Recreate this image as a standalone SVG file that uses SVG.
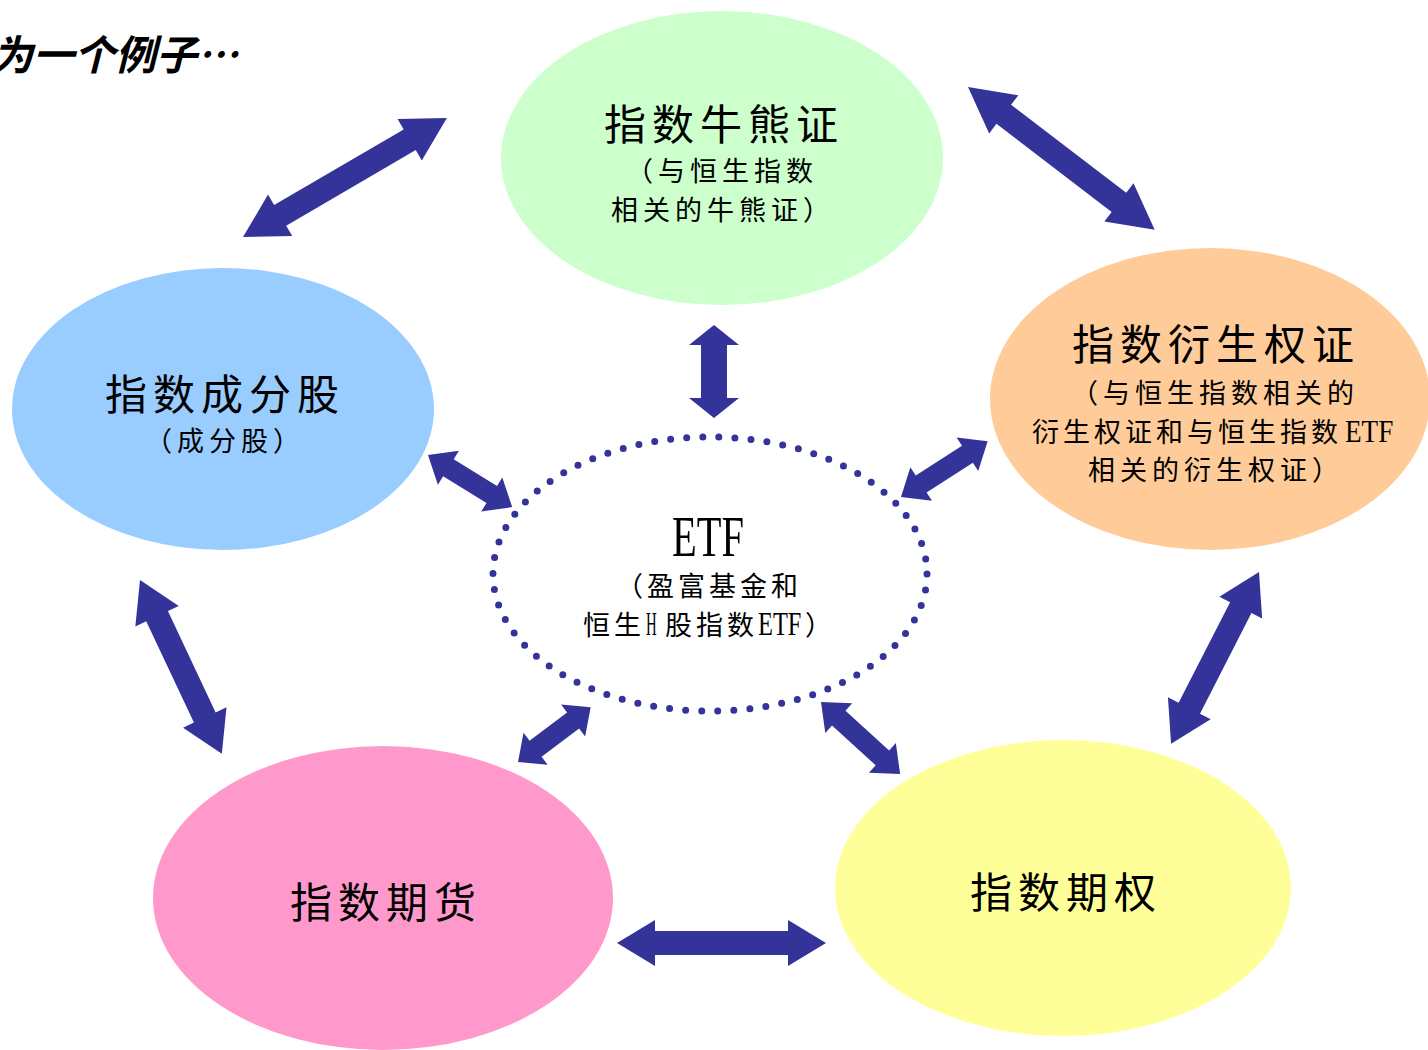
<svg xmlns="http://www.w3.org/2000/svg" width="1428" height="1050" viewBox="0 0 1428 1050">
<style>
.t{font-family:"Noto Sans CJK SC","Noto Sans CJK JP",sans-serif;fill:#000}
.big{font-size:42px;letter-spacing:6px}
.sm{font-size:27px;letter-spacing:5px}
.lat{font-family:"Liberation Serif",serif;fill:#000}
.arr{fill:#333399}
</style>
<rect width="1428" height="1050" fill="#fff"/>
<text x="-8" y="70" class="t" font-size="41" font-weight="bold" font-style="italic">为一个例子…</text>

<g id="node-bullbear">
<ellipse cx="722" cy="158" rx="221" ry="147" fill="#CCFFCC"/>
<text x="604" y="140" class="t big">指数牛熊证</text>
<text x="626" y="181" class="t sm">（与恒生指数</text>
<text x="611" y="220" class="t sm">相关的牛熊证）</text>
</g>
<g id="node-constituents">
<ellipse cx="223" cy="409" rx="211" ry="141" fill="#99CCFF"/>
<text x="105" y="410" class="t big">指数成分股</text>
<text x="145" y="451" class="t sm">（成分股）</text>
</g>
<g id="node-warrants">
<ellipse cx="1210" cy="399" rx="220" ry="151" fill="#FFCC99"/>
<text x="1072" y="360" class="t big">指数衍生权证</text>
<text x="1071" y="403" class="t sm">（与恒生指数相关的</text>
<text x="1032" y="442" class="t" font-size="27" letter-spacing="4">衍生权证和与恒生指数</text>
<text transform="translate(1345,442) scale(0.85,1)" class="lat" font-size="32">ETF</text>
<text x="1088" y="480" class="t sm">相关的衍生权证）</text>
</g>
<g id="node-futures">
<ellipse cx="383" cy="898" rx="230" ry="152" fill="#FF99CC"/>
<text x="290" y="918" class="t big">指数期货</text>
</g>
<g id="node-options">
<ellipse cx="1063" cy="888" rx="228" ry="148" fill="#FFFF99"/>
<text x="970" y="908" class="t big">指数期权</text>
</g>
<g id="node-etf">
<ellipse cx="710" cy="574" rx="217" ry="137" fill="none" stroke="#333399" stroke-width="7" stroke-linecap="round" stroke-dasharray="0 16.1"/>
<text transform="translate(672,556) scale(0.71,1)" class="lat" font-size="57">ETF</text>
<text x="616" y="596" class="t" font-size="27" letter-spacing="4">（盈富基金和</text>
<text x="583" y="635" class="t" font-size="27" letter-spacing="4">恒生</text>
<text transform="translate(646,635) scale(0.45,1)" class="lat" font-size="33">H</text>
<text x="665" y="635" class="t" font-size="27" letter-spacing="4">股指数</text>
<text transform="translate(758,635) scale(0.74,1)" class="lat" font-size="33">ETF</text>
<text x="805" y="635" class="t" font-size="27">）</text>
</g>

<g id="connectors" class="arr">
<polygon transform="translate(243,237) rotate(-30.26)" points="0,0 43,-24 43,-12 193,-12 193,-24 236,0 193,24 193,12 43,12 43,24"/>
<polygon transform="translate(968,87) rotate(37.4)" points="0,0 45,-24 45,-12 190,-12 190,-24 235,0 190,24 190,12 45,12 45,24"/>
<polygon transform="translate(714,325) rotate(90)" points="0,0 20,-25 20,-13 73,-13 73,-25 93,0 73,25 73,13 20,13 20,25"/>
<polygon transform="translate(428,455) rotate(31.76)" points="0,0 24,-20 24,-10 75,-10 75,-20 99,0 75,20 75,10 24,10 24,20"/>
<polygon transform="translate(901,497) rotate(-32.77)" points="0,0 24,-20 24,-10 79,-10 79,-20 103,0 79,20 79,10 24,10 24,20"/>
<polygon transform="translate(140,580) rotate(64.77)" points="0,0 40,-24 40,-12 152,-12 152,-24 192,0 152,24 152,12 40,12 40,24"/>
<polygon transform="translate(1259,572) rotate(117.1)" points="0,0 40,-24 40,-12 153,-12 153,-24 193,0 153,24 153,12 40,12 40,24"/>
<polygon transform="translate(518,762) rotate(-37)" points="0,0 22,-20 22,-10 69,-10 69,-20 91,0 69,20 69,10 22,10 22,20"/>
<polygon transform="translate(821,702) rotate(42.3)" points="0,0 24,-20 24,-10 83,-10 83,-20 107,0 83,20 83,10 24,10 24,20"/>
<polygon transform="translate(617,943)" points="0,0 38,-23 38,-12 171,-12 171,-23 209,0 171,23 171,12 38,12 38,23"/>
</g>
</svg>
